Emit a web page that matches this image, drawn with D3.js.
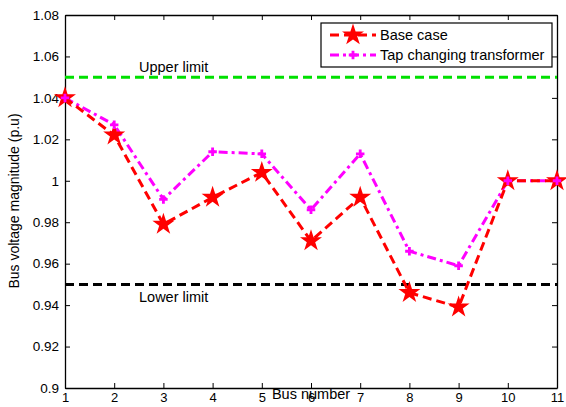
<!DOCTYPE html>
<html><head><meta charset="utf-8">
<script src="https://cdn.jsdelivr.net/npm/d3@7"></script>
<style>body{margin:0;background:#fff}text{font-family:Arial,"Liberation Sans",sans-serif}</style>
</head><body>
<svg id="c" width="566" height="407"></svg>
<script>
const buses = [1,2,3,4,5,6,7,8,9,10,11];
const baseCase = [1.040,1.022,0.979,0.992,1.004,0.971,0.992,0.946,0.939,1.000,1.000];
const tapChanging = [1.040,1.027,0.991,1.014,1.013,0.986,1.013,0.966,0.959,1.000,1.000];
const yTicks = [0.9,0.92,0.94,0.96,0.98,1,1.02,1.04,1.06,1.08];
const upperLimit = 1.05, lowerLimit = 0.95;

const svg = d3.select("#c");
const L=65,R=557,T=15,B=388;
const x = d3.scaleLinear().domain([1,11]).range([L,R]);
const y = d3.scaleLinear().domain([0.9,1.08]).range([B,T]);
const fmt = d=> d===1? "1" : d3.format(".2~f")(d);

// axes
const gx = svg.append("g").attr("transform",`translate(0,${B})`)
  .call(d3.axisBottom(x).tickValues(buses).tickSizeInner(-5).tickSizeOuter(0).tickPadding(6));
const gxt = svg.append("g").attr("transform",`translate(0,${T})`)
  .call(d3.axisTop(x).tickValues(buses).tickSizeInner(-5).tickSizeOuter(0).tickFormat(""));
const gy = svg.append("g").attr("transform",`translate(${L},0)`)
  .call(d3.axisLeft(y).tickValues(yTicks).tickFormat(fmt).tickSizeInner(-5).tickSizeOuter(0).tickPadding(6));
const gyr = svg.append("g").attr("transform",`translate(${R},0)`)
  .call(d3.axisRight(y).tickValues(yTicks).tickFormat("").tickSizeInner(-5).tickSizeOuter(0));
[gx,gxt,gy,gyr].forEach(g=>{
  g.select(".domain").attr("stroke","#000").attr("stroke-width",1.3);
  g.selectAll(".tick line").attr("stroke","#000");
  g.selectAll("text").attr("font-size",13.5).attr("fill","#000").style("font-family","Arial,'Liberation Sans',sans-serif");
});
gx.selectAll("text").attr("font-size",13).attr("dy","0.71em").attr("y",5);

// limits
svg.append("line").attr("x1",L).attr("x2",R).attr("y1",y(upperLimit)).attr("y2",y(upperLimit))
  .attr("stroke","#00e000").attr("stroke-width",3).attr("stroke-dasharray","9,5");
svg.append("line").attr("x1",L).attr("x2",R).attr("y1",y(lowerLimit)).attr("y2",y(lowerLimit))
  .attr("stroke","#000").attr("stroke-width",3).attr("stroke-dasharray","9,5");
svg.append("text").attr("x",139).attr("y",y(upperLimit)-5).attr("font-size",14.5).text("Upper limit");
svg.append("text").attr("x",139).attr("y",y(lowerLimit)+18).attr("font-size",14.5).text("Lower limit");

const line = d3.line().x((d,i)=>x(buses[i])).y(d=>y(d));
svg.append("path").datum(tapChanging).attr("d",line).attr("fill","none")
  .attr("stroke","#ff00ff").attr("stroke-width",3).attr("stroke-dasharray","9,4,3,4");
svg.append("path").datum(baseCase).attr("d",line).attr("fill","none")
  .attr("stroke","#ff0000").attr("stroke-width",3).attr("stroke-dasharray","9,5");

const star = d3.symbol().type(d3.symbolStar).size(150);
const cross = d3.symbol().type(d3.symbolCross).size(40);
svg.append("g").selectAll("path").data(baseCase).join("path")
  .attr("transform",(d,i)=>`translate(${x(buses[i])},${y(d)})`).attr("d",star).attr("fill","#ff0000");
svg.append("g").selectAll("path").data(tapChanging).join("path")
  .attr("transform",(d,i)=>`translate(${x(buses[i])},${y(d)})`).attr("d",cross).attr("fill","#ff00ff");

// axis labels
svg.append("text").attr("x",311).attr("y",399).attr("text-anchor","middle").attr("font-size",14.5).text("Bus number");
svg.append("text").attr("transform","translate(19,201) rotate(-90)").attr("text-anchor","middle").attr("font-size",14).text("Bus voltage magnitude (p.u)");

// legend
const lg = svg.append("g");
lg.append("rect").attr("x",321).attr("y",23).attr("width",231).attr("height",44).attr("fill","#fff").attr("stroke","#000").attr("stroke-width",1.2);
lg.append("line").attr("x1",330).attr("x2",376).attr("y1",35).attr("y2",35).attr("stroke","#ff0000").attr("stroke-width",3).attr("stroke-dasharray","9,5");
lg.append("path").attr("transform","translate(353,35)").attr("d",star).attr("fill","#ff0000");
lg.append("line").attr("x1",330).attr("x2",376).attr("y1",55).attr("y2",55).attr("stroke","#ff00ff").attr("stroke-width",3).attr("stroke-dasharray","9,4,3,4");
lg.append("path").attr("transform","translate(353,55)").attr("d",cross).attr("fill","#ff00ff");
lg.append("text").attr("x",380).attr("y",40).attr("font-size",14.5).text("Base case");
lg.append("text").attr("x",380).attr("y",60).attr("font-size",14.5).text("Tap changing transformer");
</script>
</body></html>
